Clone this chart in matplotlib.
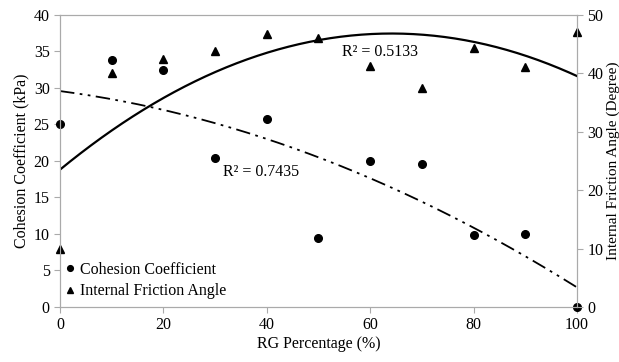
import numpy as np
import matplotlib.pyplot as plt

plt.rcParams['font.family'] = ['Liberation Serif', 'DejaVu Serif']

rg = [0, 10, 20, 30, 40, 50, 60, 70, 80, 90, 100]
cohesion = [25.0, 33.8, 32.5, 20.4, 25.7, 9.4, 20.0, 19.6, 9.8, 10.0, 0.0]
friction = [10.0, 40.0, 42.5, 43.8, 46.8, 46.0, 41.2, 37.5, 44.3, 41.0, 47.0]

fig = plt.figure(figsize=(6.19, 3.62), dpi=100)
ax = fig.add_axes([0.097, 0.152, 0.835, 0.807])
ax2 = ax.twinx()

# quadratic trend lines
xs = np.linspace(0, 100, 200)
pc = np.polyfit(rg, cohesion, 2)
pf = np.polyfit(rg, friction, 2)
ax.plot(xs, np.polyval(pc, xs), color='black', lw=1.3, dashes=[8, 3, 1.5, 3, 1.5, 3])
ax2.plot(xs, np.polyval(pf, xs), color='black', lw=1.6)

ax.plot(rg, cohesion, 'o', color='black', ms=5.5, clip_on=False, label='Cohesion Coefficient')
ax2.plot(rg, friction, '^', color='black', ms=5.5, clip_on=False, label='Internal Friction Angle')

ax.set_xlim(0, 100)
ax.set_ylim(0, 40)
ax2.set_ylim(0, 50)
ax.set_xticks([0, 20, 40, 60, 80, 100])
ax.set_yticks(range(0, 41, 5))
ax2.set_yticks(range(0, 51, 10))

for a in (ax, ax2):
    for s in a.spines.values():
        s.set_color('#aaaaaa')
    a.tick_params(colors='#aaaaaa', labelcolor='black', labelsize=11.5, length=4)

ax.set_xlabel('RG Percentage (%)', fontsize=11.5, labelpad=2)
ax.set_ylabel('Cohesion Coefficient (kPa)', fontsize=11.5, labelpad=3)
ax2.set_ylabel('Internal Friction Angle (Degree)', fontsize=11, labelpad=2)

ax.text(31.5, 18.0, 'R² = 0.7435', fontsize=11.5)
ax2.text(54.5, 43.0, 'R² = 0.5133', fontsize=11.5)

h1, l1 = ax.get_legend_handles_labels()
h2, l2 = ax2.get_legend_handles_labels()
ax2.legend(h1 + h2, l1 + l2, loc='lower left', frameon=False, fontsize=11.5,
           markerscale=0.75, handlelength=0.8, handletextpad=0.2, labelspacing=0.35,
           borderaxespad=0.0, bbox_to_anchor=(-0.005, 0.005))

plt.savefig('out.png', dpi=100)
